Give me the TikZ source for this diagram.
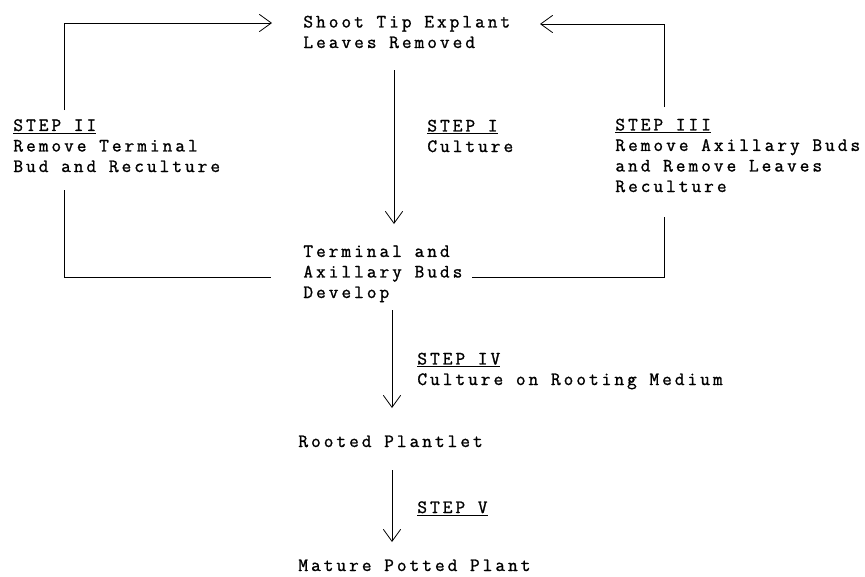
\documentclass[tikz,border=0pt]{standalone}
\usepackage{fontspec}
\setmonofont{Latin Modern Mono}[LetterSpace=16, FakeBold=1.2]
\usetikzlibrary{arrows.meta}

\begin{document}
\begin{tikzpicture}[x=0.75pt, y=-0.75pt, line width=0.6pt,
  lbl/.style={font=\ttfamily\fontsize{14.1}{15.4}\selectfont, align=left,
    inner sep=0pt, anchor=base west},
  flow/.style={-{Straight Barb[length=9pt, width=13pt]}},
]
  \useasboundingbox (0,0) rectangle (865,576);
  % 主干上的箭头端点
  \coordinate (I1) at (394,70);
  \coordinate (I2) at (394,224);
  \coordinate (IV1) at (392,310);
  \coordinate (IV2) at (392,408);
  \coordinate (V1) at (392,470);
  \coordinate (V2) at (392,542);
  % 两侧回路
  \coordinate (L1) at (64,190);
  \coordinate (L2) at (271,277);
  \coordinate (L3) at (64,110);
  \coordinate (L4) at (272,23);
  \coordinate (R1) at (472,277);
  \coordinate (R2) at (664,217);
  \coordinate (R3) at (664,107);
  \coordinate (R4) at (540,24);
  \draw[flow] (I1) -- (I2);
  \draw[flow] (IV1) -- (IV2);
  \draw[flow] (V1) -- (V2);
  \draw (L1) |- (L2);
  \draw[flow] (L3) |- (L4);
  \draw (R1) -| (R2);
  \draw[flow] (R3) |- (R4);
  % 文字（基线取最后一行）
  \node[lbl] (shoot) at (303,48) {Shoot Tip Explant\\Leaves Removed};
  \node[lbl] (stepone) at (427,152) {\underline{STEP I}\\Culture};
  \node[lbl] (steptwo) at (13,172) {\underline{STEP II}\\Remove Terminal\\Bud and Reculture};
  \node[lbl] (stepthree) at (615,192) {\underline{STEP III}\\Remove Axillary Buds\\and Remove Leaves\\Reculture};
  \node[lbl] (buds) at (303,298) {Terminal and\\Axillary Buds\\Develop};
  \node[lbl] (stepfour) at (417,385) {\underline{STEP IV}\\Culture on Rooting Medium};
  \node[lbl] (rooted) at (298,447) {Rooted Plantlet};
  \node[lbl] (stepfive) at (417,513) {\underline{STEP V}};
  \node[lbl] (mature) at (298,571) {Mature Potted Plant};
\end{tikzpicture}
\end{document}
